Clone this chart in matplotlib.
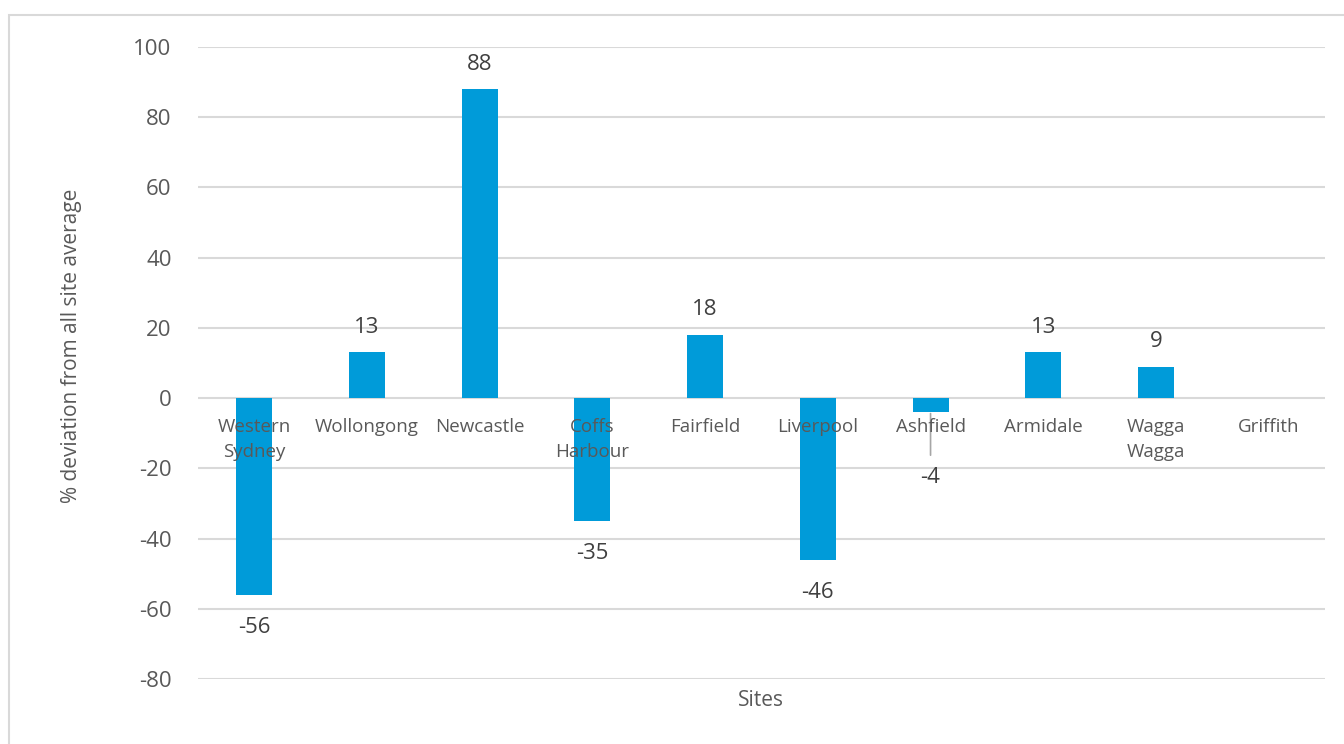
import numpy as np
import matplotlib.pyplot as plt
from matplotlib.patches import Rectangle

# data
sites = ["Western\nSydney", "Wollongong", "Newcastle", "Coffs\nHarbour", "Fairfield",
         "Liverpool", "Ashfield", "Armidale", "Wagga\nWagga", "Griffith"]
deviation = [-56, 13, 88, -35, 18, -46, -4, 13, 9, np.nan]
y_ticks = [-80, -60, -40, -20, 0, 20, 40, 60, 80, 100]

BAR = "#009BD9"
GRID = "#D9D9D9"
TXT = "#595959"
LBL = "#404040"

plt.rcParams['font.family'] = ['Open Sans', 'DejaVu Sans']
plt.rcParams['axes.unicode_minus'] = False

fig = plt.figure(figsize=(13.44, 7.44), dpi=100)
ax = fig.add_axes([198 / 1344, 1 - 679 / 744, 1127 / 1344, 632 / 744])

# outer chart border
fig.add_artist(Rectangle((9 / 1344, -0.1), 2, 1 - 15 / 744 + 0.1,
                         transform=fig.transFigure, fill=False,
                         edgecolor=GRID, linewidth=1.5))

x = np.arange(len(sites))
ax.bar(x, deviation, width=0.32, color=BAR, zorder=3)

ax.set_xlim(-0.5, len(sites) - 0.5)
ax.set_ylim(-80, 100)
ax.set_yticks(y_ticks)
ax.set_xticks([])
ax.tick_params(axis='y', length=0, pad=19, labelsize=16, labelcolor=TXT)
ax.yaxis.grid(True, color=GRID, linewidth=1.5, zorder=0)
for s in ax.spines.values():
    s.set_visible(False)

# category labels sit just under the zero line
for i, name in enumerate(sites):
    ax.annotate(name, (i, 0), xytext=(0, -14), textcoords='offset points',
                ha='center', va='top', fontsize=13.5, color=TXT,
                linespacing=1.55, zorder=4)

# data labels
for i, v in enumerate(deviation):
    if np.isnan(v):
        continue
    if v == -4:
        # small bar: label pushed down with a leader line
        ax.annotate("", (i, v), xytext=(0, -31), textcoords='offset points',
                    arrowprops=dict(arrowstyle='-', color='#A6A6A6', lw=1.2,
                                    shrinkA=0, shrinkB=1))
        ax.annotate(f"{v:g}", (i, v), xytext=(0, -47), textcoords='offset points',
                    ha='center', va='center', fontsize=16, color=LBL)
    elif v > 0:
        ax.annotate(f"{v:g}", (i, v), xytext=(0, 18), textcoords='offset points',
                    ha='center', va='center', fontsize=16, color=LBL)
    else:
        ax.annotate(f"{v:g}", (i, v), xytext=(0, -23.5), textcoords='offset points',
                    ha='center', va='center', fontsize=16, color=LBL)

fig.text(72 / 1344, 1 - 346 / 744, "% deviation from all site average",
         rotation=90, ha='center', va='center', fontsize=15, color=TXT)
fig.text(761 / 1344, 1 - 701 / 744, "Sites", ha='center', va='center',
         fontsize=15, color=TXT)

fig.savefig("out.png", dpi=100)
